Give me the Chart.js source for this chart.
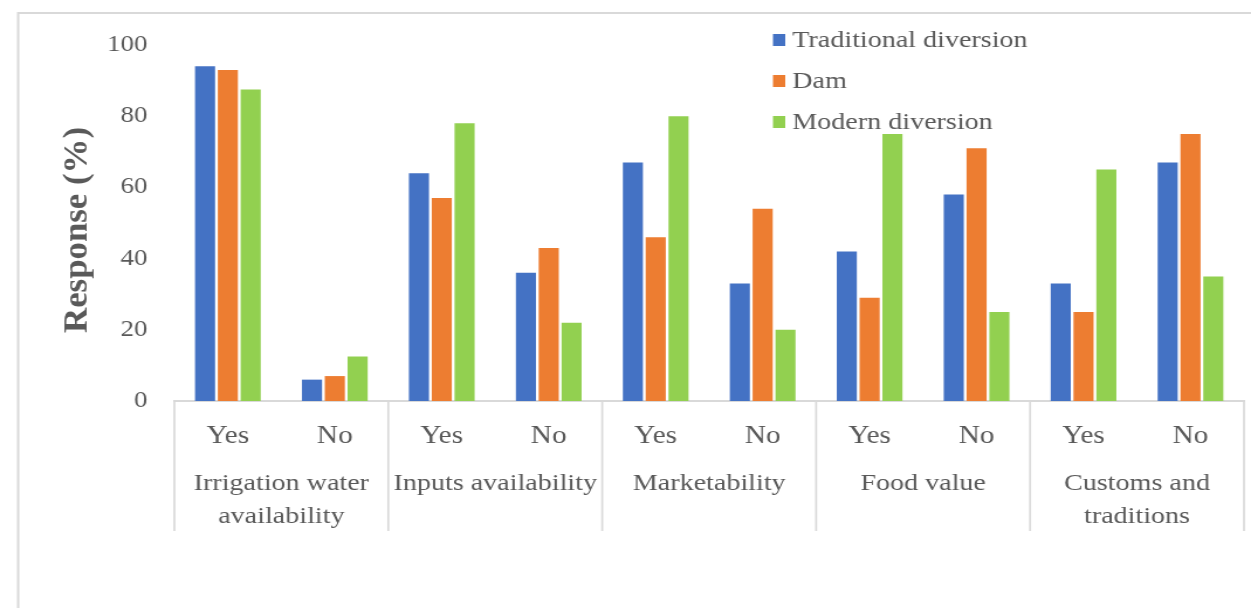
<!DOCTYPE html>
<html>
<head>
<meta charset="utf-8">
<script src="https://cdn.jsdelivr.net/npm/chart.js@4/dist/chart.umd.min.js"></script>
<style>
  html, body { margin: 0; padding: 0; background: #fff; overflow: hidden; }
  /* the figure is drawn on a narrower canvas and widened on screen */
  canvas { display: block; }
</style>
</head>
<body>
<canvas id="responseChart" width="1069" height="608" style="width:1251px;height:608px"></canvas>
<script>
// answers under each factor
const categories = ["Yes", "No", "Yes", "No", "Yes", "No", "Yes", "No", "Yes", "No"];
// factor groups, each spans a Yes/No pair (split over lines)
const groups = [
    ["Irrigation water", "availability"],
    ["Inputs availability"],
    ["Marketability"],
    ["Food value"],
    ["Customs and", "traditions"],
];
const traditional = [94, 6, 64, 36, 67, 33, 42, 58, 33, 67];
const dam = [93, 7, 57, 43, 46, 54, 29, 71, 25, 75];
const modern = [87.5, 12.5, 78, 22, 80, 20, 75, 25, 65, 35];
const yTicks = [0, 20, 40, 60, 80, 100];
const yTitle = "Response (%)";

const serif = "'Liberation Serif', 'Times New Roman', serif";
const textGray = "#595959";
const lineGray = "#d9d9d9";

// light frame round the whole figure
const framePlugin = {
    id: "frame",
    beforeDraw(chart) {
        const ctx = chart.ctx;
        ctx.save();
        ctx.strokeStyle = lineGray;
        ctx.lineWidth = 2;
        ctx.strokeRect(15.5, 13, chart.width + 20, chart.height + 20);
        ctx.restore();
    },
};

// y title, drawn by hand and stretched to a set length
const yTitlePlugin = {
    id: "yTitle",
    afterDraw(chart) {
        const ctx = chart.ctx;
        ctx.save();
        ctx.font = "bold 29px " + serif;
        const stretch = 206 / ctx.measureText(yTitle).width;
        ctx.translate(66.6, 230);
        ctx.scale(1, stretch);
        ctx.rotate(-Math.PI / 2);
        ctx.fillStyle = textGray;
        ctx.textAlign = "center";
        ctx.textBaseline = "middle";
        ctx.fillText(yTitle, 0, 0);
        ctx.restore();
    },
};

// group labels and separators below the Yes/No ticks
const groupAxisPlugin = {
    id: "groupAxis",
    afterDraw(chart) {
        const ctx = chart.ctx;
        const x = chart.scales.x;
        const area = chart.chartArea;
        const step = x.getPixelForValue(1) - x.getPixelForValue(0);
        ctx.save();
        ctx.strokeStyle = lineGray;
        ctx.lineWidth = 1.7;
        for (let g = 0; g <= groups.length; g++) {
            const px = x.getPixelForValue(g * 2) - step / 2;
            ctx.beginPath();
            ctx.moveTo(px, area.bottom);
            ctx.lineTo(px, area.bottom + 130);
            ctx.stroke();
        }
        ctx.fillStyle = textGray;
        ctx.font = "24px " + serif;
        ctx.textAlign = "center";
        ctx.textBaseline = "middle";
        groups.forEach((lines, g) => {
            const cx = (x.getPixelForValue(g * 2) + x.getPixelForValue(g * 2 + 1)) / 2;
            lines.forEach((line, i) => {
                ctx.fillText(line, cx, area.bottom + 83 + i * 33);
            });
        });
        ctx.restore();
    },
};

// legend stacked in the upper right of the plot
const legendPlugin = {
    id: "sideLegend",
    afterDatasetsDraw(chart) {
        const ctx = chart.ctx;
        ctx.save();
        ctx.font = "24px " + serif;
        ctx.textBaseline = "middle";
        chart.data.datasets.forEach((ds, i) => {
            const y = 40 + i * 41;
            ctx.fillStyle = ds.backgroundColor;
            ctx.fillRect(660.5, y - 6, 10.5, 12);
            ctx.fillStyle = textGray;
            ctx.fillText(ds.label, 677, y + 1);
        });
        ctx.restore();
    },
};

new Chart(document.getElementById("responseChart"), {
    type: "bar",
    data: {
        labels: categories,
        datasets: [
            { label: "Traditional diversion", data: traditional, backgroundColor: "#4472C4" },
            { label: "Dam", data: dam, backgroundColor: "#ED7D31" },
            { label: "Modern diversion", data: modern, backgroundColor: "#92D050" },
        ],
    },
    options: {
        responsive: false,
        animation: false,
        devicePixelRatio: 1,
        categoryPercentage: 0.64,
        barPercentage: 0.88,
        layout: { padding: { top: 45, left: 0, right: 6, bottom: 0 } },
        plugins: {
            legend: { display: false },
            tooltip: { enabled: false },
        },
        scales: {
            x: {
                grid: { display: false },
                border: { display: true, color: lineGray, width: 2 },
                ticks: { color: textGray, font: { family: serif, size: 25 }, padding: 12 },
                afterFit(scale) { scale.height = 207; },
            },
            y: {
                min: 0,
                max: 100,
                afterBuildTicks(scale) { scale.ticks = yTicks.map(v => ({ value: v })); },
                grid: { display: false, drawTicks: false },
                border: { display: false },
                ticks: { color: textGray, font: { family: serif, size: 23 }, padding: 23 },
                afterFit(scale) { scale.width = 149; },
            },
        },
    },
    plugins: [framePlugin, yTitlePlugin, groupAxisPlugin, legendPlugin],
});
</script>
</body>
</html>
